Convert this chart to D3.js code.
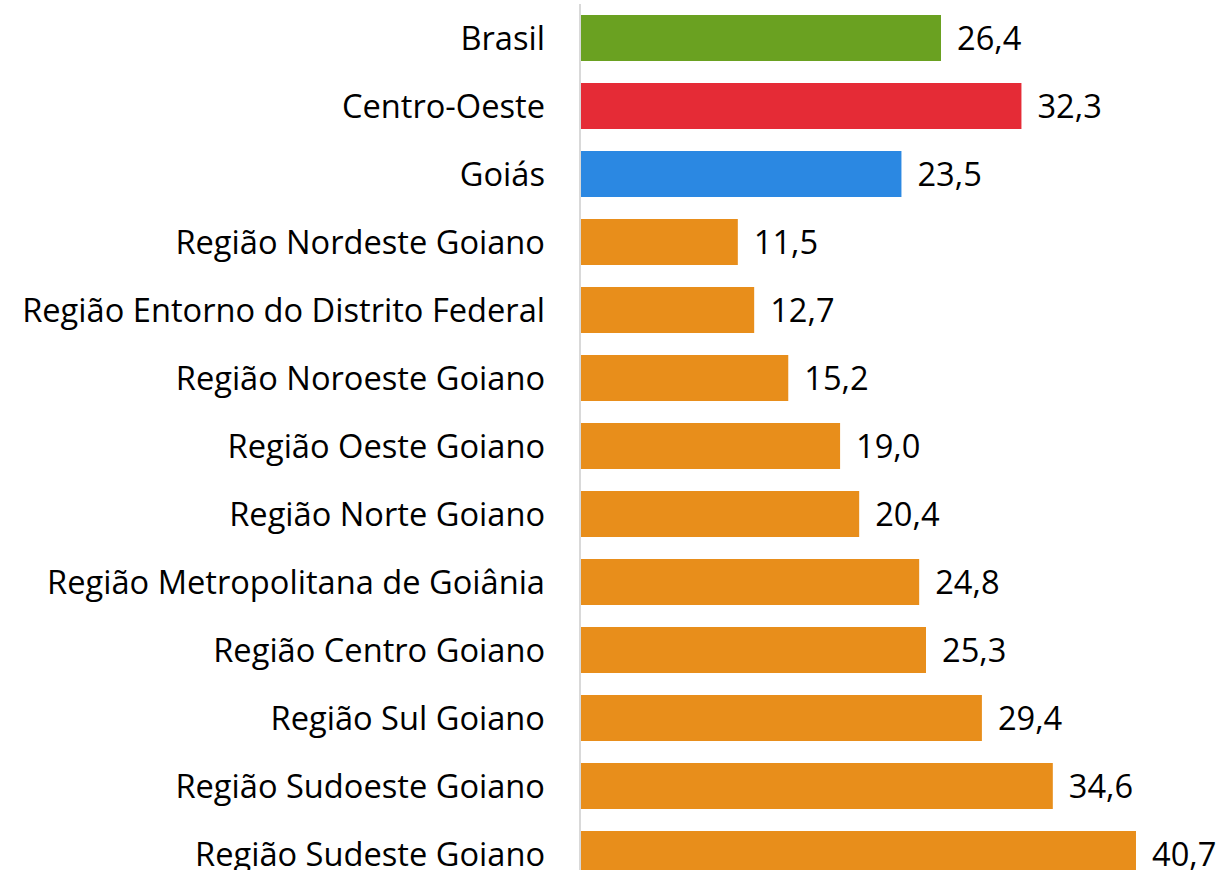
<!DOCTYPE html>
<html>
<head>
<meta charset="utf-8">
<script src="https://cdnjs.cloudflare.com/ajax/libs/d3/7.8.5/d3.min.js"></script>
<style>
  html, body { margin: 0; padding: 0; background: #fff; overflow: hidden; }
  text { font-family: "Open Sans", sans-serif; fill: #000; }
</style>
</head>
<body>
<svg width="1218" height="870"></svg>
<script>
var categories = ["Brasil", "Centro-Oeste", "Goiás", "Região Nordeste Goiano",
    "Região Entorno do Distrito Federal", "Região Noroeste Goiano", "Região Oeste Goiano",
    "Região Norte Goiano", "Região Metropolitana de Goiânia", "Região Centro Goiano",
    "Região Sul Goiano", "Região Sudoeste Goiano", "Região Sudeste Goiano"];
var values = [26.4, 32.3, 23.5, 11.5, 12.7, 15.2, 19.0, 20.4, 24.8, 25.3, 29.4, 34.6, 40.7];
var barColors = ["#6aa121", "#e52b36", "#2b88e2"];
var defaultColor = "#e88e1b";

let svg = d3.select("svg");

let x = d3.scaleLinear().domain([0, 44]).range([581, 581 + 44 * 13.636]);
let y = d3.scaleBand().domain(categories).range([4, 888])
    .paddingInner(22 / 68).paddingOuter(11 / 68);

let fmt = v => v.toFixed(1).replace(".", ",");

// bars
svg.append("g").selectAll("rect")
    .data(categories)
    .enter().append("rect")
    .attr("x", x(0))
    .attr("y", d => y(d))
    .attr("width", (d, i) => x(values[i]) - x(0))
    .attr("height", y.bandwidth())
    .attr("fill", (d, i) => barColors[i] || defaultColor);

// axis line
svg.append("line")
    .attr("x1", 580).attr("x2", 580)
    .attr("y1", 4).attr("y2", 870)
    .attr("stroke", "#d9d9d9").attr("stroke-width", 2);

// category labels
let labels = svg.append("g").selectAll("text")
    .data(categories)
    .enter().append("text")
    .attr("x", 545)
    .attr("y", d => y(d) + y.bandwidth() / 2)
    .attr("dy", "0.36em")
    .attr("text-anchor", "end")
    .style("font-size", "28px")
    .text(d => d);

// fit the longest label to the width seen in the original (~523px)
let maxW = d3.max(labels.nodes(), n => n.getComputedTextLength());
let fs = 28 * 523 / maxW;
labels.style("font-size", fs + "px");

// value labels
svg.append("g").selectAll("text")
    .data(categories)
    .enter().append("text")
    .attr("x", (d, i) => x(values[i]) + 16)
    .attr("y", d => y(d) + y.bandwidth() / 2)
    .attr("dy", "0.36em")
    .style("font-size", fs + "px")
    .text((d, i) => fmt(values[i]));
</script>
</body>
</html>
